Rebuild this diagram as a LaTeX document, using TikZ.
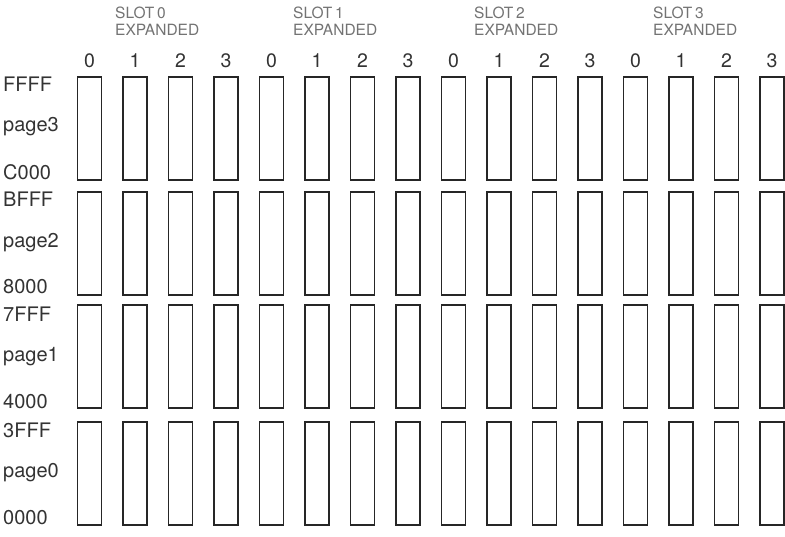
\documentclass[tikz,border=0pt]{standalone}
\usepackage{fontspec}
\setmainfont{TeX Gyre Heros}
\begin{document}
\begin{tikzpicture}[x=1pt,y=-1pt,
  membox/.style={draw=black!85,line width=1.4pt,minimum width=24pt,minimum height=103pt,inner sep=0pt},
  addr/.style={anchor=west,inner sep=0pt,font=\fontsize{20}{20}\selectfont,text=black!80},
  colnum/.style={inner sep=0pt,font=\fontsize{19.5}{19.5}\selectfont,text=black!80},
  slothead/.style={anchor=west,inner sep=0pt,align=left,font=\fontsize{15.5}{16.5}\selectfont,text=black!55}]
\useasboundingbox (0,0) rectangle (785,536);
% slot headers
\foreach \s/\x in {0/115,1/293,2/474,3/653}{
  \node[slothead] (h\s) at (\x,21) {SLOT\,\s\\EXPANDED};
}
% column numbers and boxes
\foreach \c in {0,...,15}{
  \pgfmathsetmacro{\xc}{89.5+45.5*\c}
  \pgfmathtruncatemacro{\n}{mod(\c,4)}
  \node[colnum] (n\c) at (\xc,61) {\n};
  \foreach \r/\yc in {3/128.5,2/243.5,1/356.5,0/473.5}{
    \node[membox] (b\r-\c) at (\xc,\yc) {};
  }
}
% address labels
\node[addr] (a3t) at (3,84) {FFFF};
\node[addr] (a3m) at (3,127) {page3};
\node[addr] (a3b) at (3,172) {C000};
\node[addr] (a2t) at (3,199) {BFFF};
\node[addr] (a2m) at (3,243) {page2};
\node[addr] (a2b) at (3,287) {8000};
\node[addr] (a1t) at (3,314) {7FFF};
\node[addr] (a1m) at (3,357) {page1};
\node[addr] (a1b) at (3,402) {4000};
\node[addr] (a0t) at (3,430) {3FFF};
\node[addr] (a0m) at (3,473) {page0};
\node[addr] (a0b) at (3,518) {0000};
\end{tikzpicture}
\end{document}
